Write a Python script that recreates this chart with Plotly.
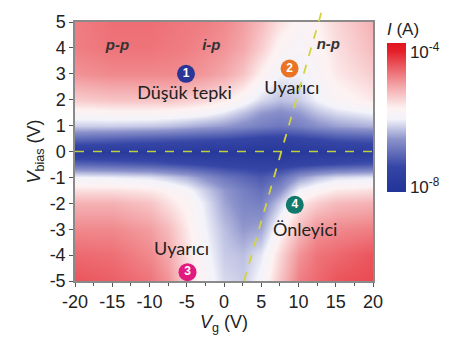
import plotly.graph_objects as go

# Gate voltage (columns) and bias voltage (rows) of the current map
vg = [-20, -15, -10, -7.5, -5, -2.5, 0, 2.5, 5, 7.5, 10, 12.5, 15, 20]
vbias = [-5, -4, -3, -2, -1.5, -1, -0.5, 0, 0.5, 1, 1.5, 2, 3, 4, 5]

# log10 of drain current I (A), one row per bias voltage
log_i = [
    [-4.40, -4.48, -4.64, -4.88, -5.44, -5.84, -6.16, -6.24, -5.92, -5.28, -4.72, -4.56, -4.40, -4.32],
    [-4.56, -4.60, -4.80, -5.04, -5.52, -5.92, -6.24, -6.32, -6.08, -5.44, -4.88, -4.64, -4.56, -4.40],
    [-4.80, -4.80, -4.96, -5.20, -5.60, -6.00, -6.32, -6.56, -6.48, -5.76, -5.20, -4.88, -4.80, -4.72],
    [-5.12, -5.12, -5.28, -5.52, -5.76, -6.08, -6.48, -6.72, -6.80, -6.24, -5.60, -5.36, -5.20, -5.12],
    [-5.52, -5.52, -5.60, -5.72, -5.92, -6.24, -6.56, -6.80, -6.96, -6.64, -6.00, -5.76, -5.60, -5.52],
    [-6.00, -6.04, -6.12, -6.24, -6.40, -6.64, -6.88, -7.04, -7.20, -7.00, -6.56, -6.32, -6.16, -6.08],
    [-7.04, -7.12, -7.20, -7.28, -7.36, -7.44, -7.52, -7.56, -7.60, -7.60, -7.52, -7.44, -7.36, -7.24],
    [-7.84, -7.88, -7.88, -7.88, -7.88, -7.92, -7.92, -7.92, -7.96, -7.96, -7.92, -7.88, -7.84, -7.80],
    [-7.04, -7.12, -7.20, -7.24, -7.28, -7.32, -7.36, -7.44, -7.52, -7.56, -7.48, -7.40, -7.28, -7.20],
    [-6.24, -6.24, -6.28, -6.32, -6.40, -6.48, -6.56, -6.68, -6.80, -6.88, -6.80, -6.64, -6.52, -6.40],
    [-5.80, -5.76, -5.76, -5.80, -5.84, -5.92, -6.08, -6.32, -6.56, -6.68, -6.56, -6.32, -6.16, -6.00],
    [-5.36, -5.28, -5.28, -5.28, -5.36, -5.44, -5.60, -5.84, -6.16, -6.32, -6.24, -6.00, -5.80, -5.60],
    [-4.88, -4.80, -4.80, -4.80, -4.84, -4.92, -5.04, -5.28, -5.68, -6.00, -6.00, -5.84, -5.60, -5.36],
    [-4.72, -4.64, -4.64, -4.68, -4.72, -4.80, -4.88, -5.04, -5.36, -5.76, -5.88, -5.76, -5.52, -5.20],
    [-4.72, -4.60, -4.60, -4.64, -4.68, -4.72, -4.80, -4.96, -5.20, -5.52, -5.76, -5.68, -5.44, -5.12],
]

# Axis ticks
vg_ticks = [-20, -15, -10, -5, 0, 5, 10, 15, 20]
vg_ticktext = ["-20", "-15", "-10", "-5", "0", "5", "10", "15", "20"]
vb_ticks = [-5, -4, -3, -2, -1, 0, 1, 2, 3, 4, 5]
vb_ticktext = ["-5", "-4", "-3", "-2", "-1", "0", "1", "2", "3", "4", "5"]

# Colour bar ticks (log10 I) and the span shown on the bar
cb_ticks = [-4, -8]
cb_ticktext = ["10<sup>-4</sup>", "10<sup>-8</sup>"]
cb_min, cb_max = -8.15, -3.75

# Colour stops given in log10 I
stop_log = [-8.15, -8.0, -7.4, -6.6, -6.0, -5.68, -5.0, -4.0, -3.75]
stop_color = ["#23359a", "#25379a", "#3646a6", "#8b92cb", "#f3f3fa",
              "#fdf2f2", "#f3a3a6", "#e5202a", "#e0161f"]

# Region labels
region_text = ["p-p", "i-p", "n-p"]
region_vg = [-14.3, -1.7, 14.0]
region_vb = [4.05, 4.05, 4.1]

# Numbered operating points and their captions
point_num = ["1", "2", "3", "4"]
point_vg = [-5.1, 8.8, -4.9, 9.5]
point_vb = [3.0, 3.2, -4.66, -2.06]
point_color = ["#2b3596", "#ea7424", "#e01a7e", "#12786c"]
caption_text = ["Düşük tepki", "Uyarıcı", "Uyarıcı", "Önleyici"]
caption_vg = [-5.3, 9.1, -5.7, 10.9]
caption_vb = [2.2, 2.4, -3.83, -3.07]

# Threshold line through the map (Vg at the given Vbias)
thr_vb = [-5.0, 5.6]
thr_vg = [2.7, 13.3]

x_range = [-20, 20]
y_range = [-5, 5]

colorscale = [[(v - cb_min) / (cb_max - cb_min), c] for v, c in zip(stop_log, stop_color)]

text_color = "#222"
num_font = dict(family="Liberation Sans", size=18, color=text_color)

fig = go.Figure()
fig.add_trace(go.Heatmap(
    x=vg, y=vbias, z=log_i, zmin=cb_min, zmax=cb_max, zsmooth="best",
    colorscale=colorscale, hoverinfo="skip",
    colorbar=dict(
        x=1.047, xanchor="left", xpad=0, y=1.01, yanchor="top", ypad=0,
        len=0.667, lenmode="fraction", thickness=19, outlinewidth=0,
        tickvals=cb_ticks, ticktext=cb_ticktext,
        ticks="", tickfont=dict(family="Liberation Sans", size=17, color=text_color),
        title=dict(text="<i>I</i> (A)", side="top",
                   font=dict(family="Liberation Sans", size=17, color=text_color)),
    ),
))

# Dashed guide at zero bias
fig.add_trace(go.Scatter(
    x=x_range, y=[0, 0], mode="lines", hoverinfo="skip", showlegend=False,
    line=dict(color="#c2cf3c", width=1.6, dash="dash"),
))

# Threshold line drawn as a shape so it can run past the top edge
def ypaper(v):
    return (v - y_range[0]) / (y_range[1] - y_range[0])

fig.add_shape(type="line", xref="x", yref="paper",
              x0=thr_vg[0], y0=ypaper(thr_vb[0]), x1=thr_vg[1], y1=ypaper(thr_vb[1]),
              line=dict(color="#d2d43e", width=1.8, dash="dash"))

# Region labels
fig.add_trace(go.Scatter(
    x=region_vg, y=region_vb, mode="text", text=[f"<b><i>{t}</i></b>" for t in region_text],
    textfont=dict(family="Liberation Sans", size=15, color="#333"),
    hoverinfo="skip", showlegend=False,
))

# Numbered circles
fig.add_trace(go.Scatter(
    x=point_vg, y=point_vb, mode="markers+text", text=[f"<b>{n}</b>" for n in point_num],
    textposition="middle center",
    marker=dict(size=18, color=point_color, line=dict(width=0)),
    textfont=dict(family="Liberation Sans", size=12, color="white"),
    hoverinfo="skip", showlegend=False, cliponaxis=False,
))

# Captions
fig.add_trace(go.Scatter(
    x=caption_vg, y=caption_vb, mode="text", text=caption_text,
    textfont=dict(family="Lato", size=18, color=text_color),
    hoverinfo="skip", showlegend=False,
))

fig.update_xaxes(
    range=x_range, tickvals=vg_ticks, ticktext=vg_ticktext,
    ticks="outside", ticklen=4, tickcolor="#555",
    minor=dict(dtick=2.5, ticks="outside", ticklen=3, tickcolor="#555"),
    showgrid=False, zeroline=False, showline=True, linecolor="#8a8a8a", linewidth=1.5,
    mirror=True, tickfont=num_font,
    title=dict(text="<i>V</i><sub>g</sub> (V)", font=dict(family="Liberation Sans", size=18, color=text_color), standoff=0),
)
fig.update_yaxes(
    range=y_range, tickvals=vb_ticks, ticktext=vb_ticktext,
    ticks="outside", ticklen=4, tickcolor="#555",
    showgrid=False, zeroline=False, showline=True, linecolor="#8a8a8a", linewidth=1.5,
    mirror=True, tickfont=num_font,
    title=dict(text="<i>V</i><sub>bias</sub> (V)", font=dict(family="Liberation Sans", size=18, color=text_color), standoff=4),
)
fig.update_layout(
    width=461, height=338,
    margin=dict(l=75, r=88, t=16, b=57),
    paper_bgcolor="white", plot_bgcolor="white",
    showlegend=False,
)
fig.write_html("out.html")
